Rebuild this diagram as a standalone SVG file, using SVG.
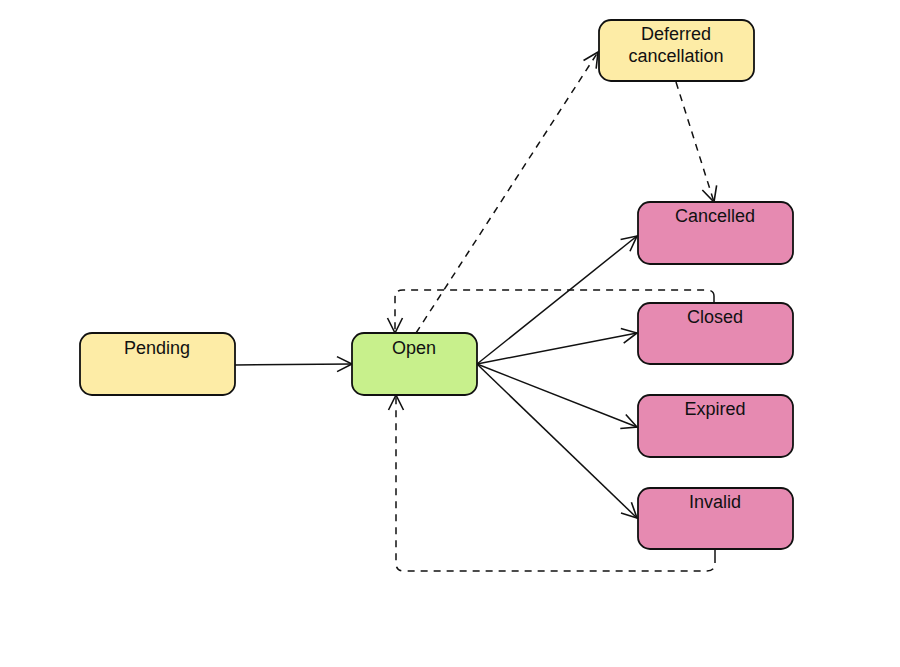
<svg xmlns="http://www.w3.org/2000/svg" width="900" height="667" viewBox="0 0 900 667">
<style>
.n rect{stroke:#111;stroke-width:1.8}
.y rect{fill:#fdeca6}
.g rect{fill:#c8f08c}
.p rect{fill:#e68ab1}
text{font-family:"Liberation Sans",Arial,sans-serif;font-size:18px;fill:#111;text-anchor:middle}
.c path{fill:none;stroke:#111;stroke-width:1.5}
.c .d{stroke-dasharray:7 6}
</style>
<defs>
<marker id="a" markerUnits="userSpaceOnUse" markerWidth="20" markerHeight="20" viewBox="-17 -10 20 20" refX="0" refY="0" orient="auto">
<path d="M-15,-7.5 L0,0 L-15,7.5" fill="none" stroke="#111" stroke-width="1.6"/>
</marker>
</defs>
<rect width="900" height="667" fill="#fff"/>
<g class="c">
<path d="M235,365 L352,364" marker-end="url(#a)"/>
<path class="d" d="M416,333 L598,52" marker-end="url(#a)"/>
<path class="d" d="M676,82 L714,202" marker-end="url(#a)"/>
<path d="M477,364 L637,236" marker-end="url(#a)"/>
<path d="M477,364 L637,333" marker-end="url(#a)"/>
<path d="M477,364 L637,427" marker-end="url(#a)"/>
<path d="M477,364 L637,518" marker-end="url(#a)"/>
<path d="M714,303 L714,296"/>
<path class="d" d="M714,296 Q714,290 706,290 L403,290 Q395,290 395,298 L395,333" marker-end="url(#a)"/>
<path d="M715,549 L715,556"/>
<path class="d" d="M715,556 L715,563 Q715,571 707,571 L404,571 Q396,571 396,563 L396,395" marker-end="url(#a)"/>
</g>
<g id="pending" class="n y"><rect x="80" y="333" width="155" height="62" rx="12"/><text x="157" y="354">Pending</text></g>
<g id="open" class="n g"><rect x="352" y="333" width="125" height="62" rx="12"/><text x="414" y="354">Open</text></g>
<g id="deferred" class="n y"><rect x="599" y="20" width="155" height="61" rx="12"/><text x="676" y="40">Deferred</text><text x="676" y="62">cancellation</text></g>
<g id="cancelled" class="n p"><rect x="638" y="202" width="155" height="62" rx="12"/><text x="715" y="222">Cancelled</text></g>
<g id="closed" class="n p"><rect x="638" y="303" width="155" height="61" rx="12"/><text x="715" y="323">Closed</text></g>
<g id="expired" class="n p"><rect x="638" y="395" width="155" height="62" rx="12"/><text x="715" y="415">Expired</text></g>
<g id="invalid" class="n p"><rect x="638" y="488" width="155" height="61" rx="12"/><text x="715" y="508">Invalid</text></g>
</svg>
